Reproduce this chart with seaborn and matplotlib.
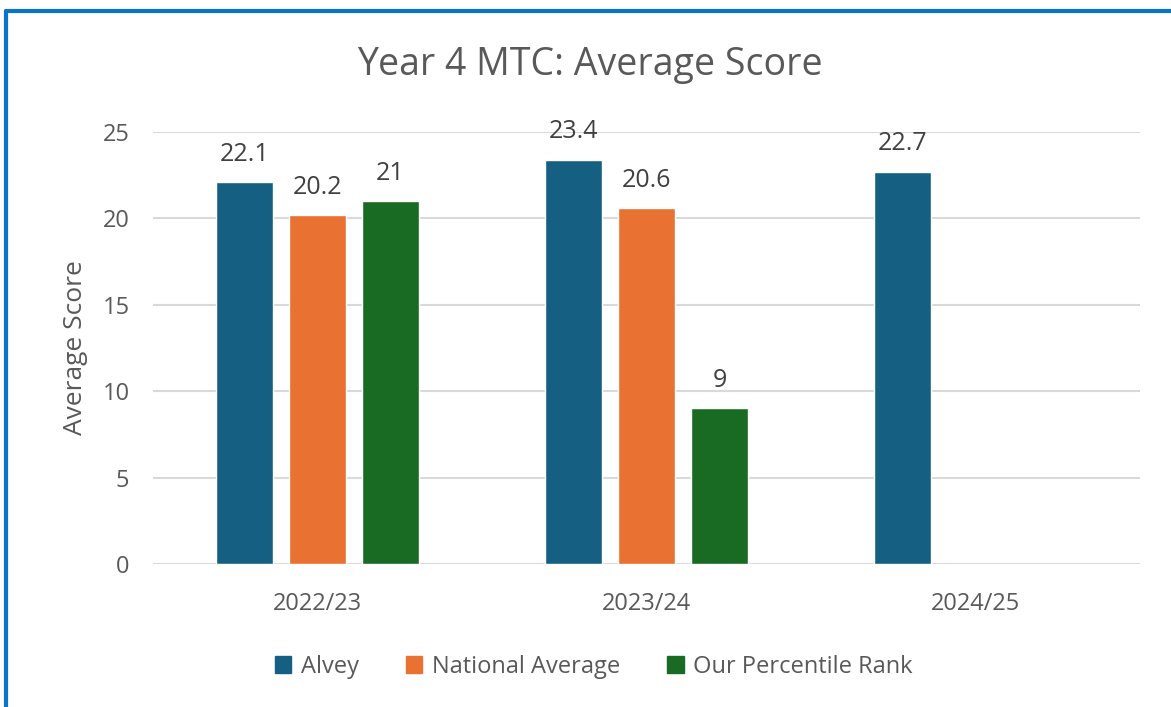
import pandas as pd
import seaborn as sns
import matplotlib.pyplot as plt
from matplotlib.lines import Line2D
from matplotlib.patches import Patch

years = ['2022/23', '2023/24', '2024/25']
alvey = [22.1, 23.4, 22.7]
national = [20.2, 20.6, None]
percentile = [21, 9, None]
series = ['Alvey', 'National Average', 'Our Percentile Rank']
colors = ['#156082', '#E97132', '#196B24']

rows = []
for name, vals in zip(series, [alvey, national, percentile]):
    for y, v in zip(years, vals):
        if v is not None:
            rows.append({'year': y, 'series': name, 'score': v})
data = pd.DataFrame(rows)

sns.set_theme(style='white')
plt.rcParams['font.family'] = ['Open Sans', 'DejaVu Sans']
grey = '#595959'

fig = plt.figure(figsize=(11.71, 7.07), dpi=100)
ax = fig.add_axes([0.1307, 0.2023, 0.8428, 0.611])

sns.barplot(data=data, x='year', y='score', hue='series', order=years,
            hue_order=series, palette=colors, width=0.666, gap=0.22,
            saturation=1, ax=ax, legend=False)

for c in ax.containers:
    labels = [f'{v:g}' for v in c.datavalues]
    ax.bar_label(c, labels=labels, padding=11, fontsize=18, color='#404040')

ax.set_ylim(0, 25)
ax.set_yticks([0, 5, 10, 15, 20, 25])
ax.yaxis.grid(True, color='#d9d9d9', linewidth=1.5)
ax.set_axisbelow(True)
sns.despine(ax=ax, left=True, bottom=True, top=True, right=True)
ax.tick_params(axis='y', length=0, pad=17, labelsize=17, labelcolor=grey)
ax.tick_params(axis='x', length=0, pad=20, labelsize=17, labelcolor=grey)
ax.set_xlabel('')
ax.set_ylabel('Average Score', fontsize=19, color=grey, labelpad=10)

fig.text(0.504, 0.908, 'Year 4 MTC: Average Score', ha='center', va='center',
         fontsize=27, color=grey)

handles = [Patch(facecolor=c, edgecolor=c) for c in colors]
fig.legend(handles, series, loc='center', bbox_to_anchor=(0.507, 0.057),
           ncol=3, frameon=False, fontsize=17, labelcolor=grey,
           handlelength=0.7, handleheight=0.7, handletextpad=0.4,
           columnspacing=2.0)

# blue frame on the left and top edge
fig.add_artist(Line2D([0.0051, 0.0051], [0, 0.985], color='#0A74C9',
                      linewidth=3, transform=fig.transFigure))
fig.add_artist(Line2D([0.0051, 1], [0.985, 0.985], color='#0A74C9',
                      linewidth=3, transform=fig.transFigure))

plt.savefig('out.png', dpi=100)
plt.close()
